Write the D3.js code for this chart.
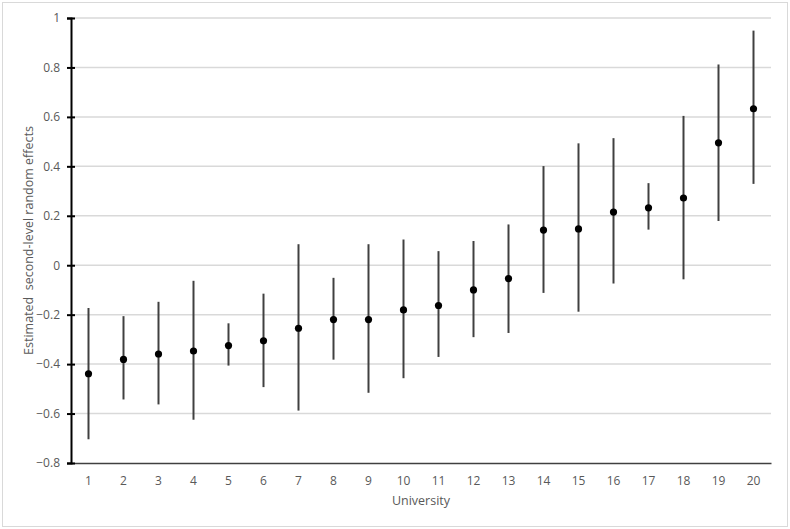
<!DOCTYPE html>
<html>
<head>
<meta charset="utf-8">
<script src="https://cdn.jsdelivr.net/npm/d3@7"></script>
<style>
  html, body { margin: 0; padding: 0; background: #fff; }
  svg { display: block; }
  text { font-family: "Open Sans", "Liberation Sans", sans-serif; fill: #595959; }
</style>
</head>
<body>
<svg id="chart" width="790" height="529"></svg>
<script>
const universities = ["1","2","3","4","5","6","7","8","9","10","11","12","13","14","15","16","17","18","19","20"];
const estimates = [-0.439,-0.381,-0.359,-0.347,-0.325,-0.306,-0.255,-0.220,-0.220,-0.181,-0.163,-0.100,-0.054,0.142,0.147,0.215,0.232,0.272,0.495,0.633];
const upper = [-0.173,-0.206,-0.148,-0.063,-0.235,-0.115,0.085,-0.051,0.085,0.104,0.057,0.098,0.165,0.401,0.493,0.514,0.332,0.604,0.812,0.949];
const lower = [-0.704,-0.543,-0.563,-0.625,-0.406,-0.493,-0.588,-0.382,-0.516,-0.457,-0.371,-0.291,-0.274,-0.112,-0.188,-0.074,0.144,-0.057,0.179,0.329];
const yTicks = [-0.8,-0.6,-0.4,-0.2,0,0.2,0.4,0.6,0.8,1];
const xTitle = "University";
const yTitle = "Estimated  second-level random effects";

const rows = universities.map((u, i) => ({u, est: estimates[i], hi: upper[i], lo: lower[i]}));

const svg = d3.select("#chart");
const W = 790, H = 529;
const m = {left: 71, right: 19, top: 18, bottom: 66};

svg.append("rect").attr("x", 2.5).attr("y", 2.5).attr("width", W - 5).attr("height", H - 5)
  .attr("fill", "#fff").attr("stroke", "#d9d9d9").attr("stroke-width", 1);

const x = d3.scaleBand().domain(universities).range([m.left, W - m.right]);
const y = d3.scaleLinear().domain([-0.8, 1]).range([H - m.bottom, m.top]);

// gridlines
svg.append("g").selectAll("line").data(yTicks.filter(t => t > -0.8)).join("line")
  .attr("x1", m.left).attr("x2", W - m.right)
  .attr("y1", d => y(d)).attr("y2", d => y(d))
  .attr("stroke", "#d9d9d9").attr("stroke-width", 1.5);

// x axis
const xAxis = svg.append("g").attr("transform", `translate(0,${y(-0.8)})`)
  .call(d3.axisBottom(x).tickSize(0).tickPadding(13));
xAxis.select(".domain").attr("stroke", "#404040").attr("stroke-width", 1.5);
xAxis.selectAll("text").style("font-size", "12px").attr("fill", "#595959")
  .style("font-family", "'Open Sans', sans-serif");

// y axis
const yAxis = svg.append("g").attr("transform", `translate(${m.left},0)`)
  .call(d3.axisLeft(y).tickValues(yTicks).tickFormat(d => d3.format("")(+d.toFixed(1))).tickSize(4).tickPadding(7));
yAxis.select(".domain").attr("stroke", "#000").attr("stroke-width", 2);
yAxis.selectAll(".tick line").attr("stroke", "#000").attr("stroke-width", 2).attr("x2", 4).attr("x1", -4);
yAxis.selectAll("text").style("font-size", "12px").attr("fill", "#595959")
  .style("font-family", "'Open Sans', sans-serif");

// error bars
const cx = d => x(d.u) + x.bandwidth() / 2;
svg.append("g").selectAll("line").data(rows).join("line")
  .attr("x1", cx).attr("x2", cx)
  .attr("y1", d => y(d.hi)).attr("y2", d => y(d.lo))
  .attr("stroke", "#404040").attr("stroke-width", 2);

// points
svg.append("g").selectAll("circle").data(rows).join("circle")
  .attr("cx", cx).attr("cy", d => y(d.est)).attr("r", 3.6).attr("fill", "#000");

// titles
svg.append("text").attr("x", (m.left + W - m.right) / 2).attr("y", 505)
  .attr("text-anchor", "middle").style("font-size", "12.5px").text(xTitle);
svg.append("text").attr("transform", `translate(33,${(y(1) + y(-0.8)) / 2}) rotate(-90)`)
  .attr("text-anchor", "middle").style("font-size", "12.5px").style("white-space", "pre").text(yTitle);
</script>
</body>
</html>
